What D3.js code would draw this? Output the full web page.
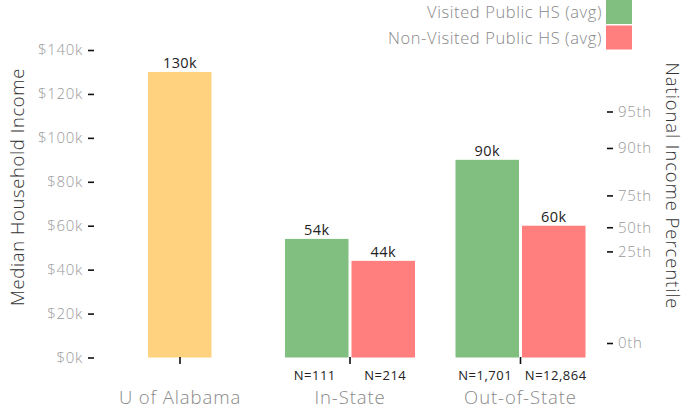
<!DOCTYPE html>
<html><head><meta charset="utf-8">
<script src="https://cdn.jsdelivr.net/npm/d3@7"></script>
<style>body{margin:0;background:#fff;} text{font-family:"Open Sans",Lato,sans-serif;}</style>
</head><body><svg id="c" width="700" height="408"></svg>
<script>
const categories = ["U of Alabama", "In-State", "Out-of-State"];
const seriesNames = ["Visited Public HS (avg)", "Non-Visited Public HS (avg)"];
const uaValue = 130;
const visited = [null, 54, 90];
const nonVisited = [null, 44, 60];
const visitedN = [null, "N=111", "N=1,701"];
const nonVisitedN = [null, "N=214", "N=12,864"];
const leftTicks = [0, 20, 40, 60, 80, 100, 120, 140];
const pctLabels = ["0th", "25th", "50th", "75th", "90th", "95th"];
const pctIncome = [6.6, 48.3, 59.3, 73.8, 95.4, 112];
const colors = {ua: "#ffd27f", visited: "#81bf80", non: "#ff7f7f"};

const svg = d3.select("#c");
const y = d3.scaleLinear().domain([0, 140]).range([357.5, 50]);
const x = d3.scaleOrdinal().domain(categories).range([180, 350, 520.5]);
const bw = 63.5, gap = 3;
const FF = "Open Sans";

// left axis
const la = svg.append("g").attr("transform", "translate(94,0)")
  .call(d3.axisLeft(y).tickValues(leftTicks).tickSize(6).tickPadding(5).tickFormat(d => "$" + d + "k"));
la.select(".domain").remove();
la.selectAll(".tick line").attr("stroke", "#111").attr("stroke-width", 1.6);
la.selectAll(".tick text").attr("fill", "#999").attr("font-size", 15).attr("font-family", FF)
  .attr("font-weight", 300).attr("letter-spacing", 0.7);

// right axis
const ra = svg.append("g").attr("transform", "translate(607,0)")
  .call(d3.axisRight(y).tickValues(pctIncome).tickSize(6).tickPadding(5).tickFormat((d, i) => pctLabels[i]));
ra.select(".domain").remove();
ra.selectAll(".tick line").attr("stroke", "#111").attr("stroke-width", 1.6);
ra.selectAll(".tick text").attr("fill", "#999").attr("font-size", 15).attr("font-family", FF)
  .attr("font-weight", 300).attr("letter-spacing", 0.7);

// axis titles
svg.append("text").attr("transform", "translate(24,187) rotate(-90)").attr("text-anchor", "middle")
  .attr("font-size", 18.5).attr("font-weight", 300).attr("letter-spacing", 0.6).attr("fill", "#333").text("Median Household Income");
svg.append("text").attr("transform", "translate(666,186) rotate(90)").attr("text-anchor", "middle")
  .attr("font-size", 18.5).attr("font-weight", 300).attr("letter-spacing", 0.9).attr("fill", "#333").text("National Income Percentile");

// bars
const g = svg.append("g");
const ux = x("U of Alabama");
g.append("rect").attr("x", ux - 32).attr("width", bw)
  .attr("y", y(uaValue)).attr("height", y(0) - y(uaValue)).attr("fill", colors.ua);
g.append("text").attr("x", ux).attr("y", y(uaValue) - 4).attr("text-anchor", "middle")
  .attr("font-size", 14.5).attr("letter-spacing", 0.4).attr("fill", "#222").text(uaValue + "k");

categories.forEach((c, i) => {
  if (visited[i] == null) return;
  const cx = x(c);
  const xs = [cx - gap / 2 - bw, cx + gap / 2];
  [[visited[i], colors.visited, visitedN[i]], [nonVisited[i], colors.non, nonVisitedN[i]]].forEach((d, j) => {
    g.append("rect").attr("x", xs[j]).attr("width", bw).attr("y", y(d[0])).attr("height", y(0) - y(d[0])).attr("fill", d[1]);
    g.append("text").attr("x", xs[j] + bw / 2).attr("y", y(d[0]) - 4).attr("text-anchor", "middle")
      .attr("font-size", 14.5).attr("letter-spacing", 0.4).attr("fill", "#222").text(d[0] + "k");
    g.append("text").attr("x", xs[j] + bw / 2 + (j === 0 ? -2 : 2)).attr("y", 379.5).attr("text-anchor", "middle")
      .attr("font-size", 13).attr("letter-spacing", 0.5).attr("fill", "#222").text(d[2]);
  });
});

// bottom ticks and category labels
categories.forEach(c => {
  svg.append("line").attr("x1", x(c)).attr("x2", x(c)).attr("y1", 357).attr("y2", 364)
    .attr("stroke", "#111").attr("stroke-width", 1.6);
  svg.append("text").attr("x", x(c)).attr("y", 404).attr("text-anchor", "middle")
    .attr("font-size", 18.5).attr("font-weight", 300).attr("letter-spacing", 0.9).attr("fill", "#888").text(c);
});

// legend
seriesNames.forEach((s, i) => {
  svg.append("rect").attr("x", 606).attr("y", i * 25.5).attr("width", 26).attr("height", 24)
    .attr("fill", i === 0 ? colors.visited : colors.non);
  svg.append("text").attr("x", 602).attr("y", i * 25.5 + 18).attr("text-anchor", "end")
    .attr("font-size", 16.5).attr("font-weight", 300).attr("letter-spacing", 0.6).attr("fill", "#888").text(s);
});
</script></body></html>
